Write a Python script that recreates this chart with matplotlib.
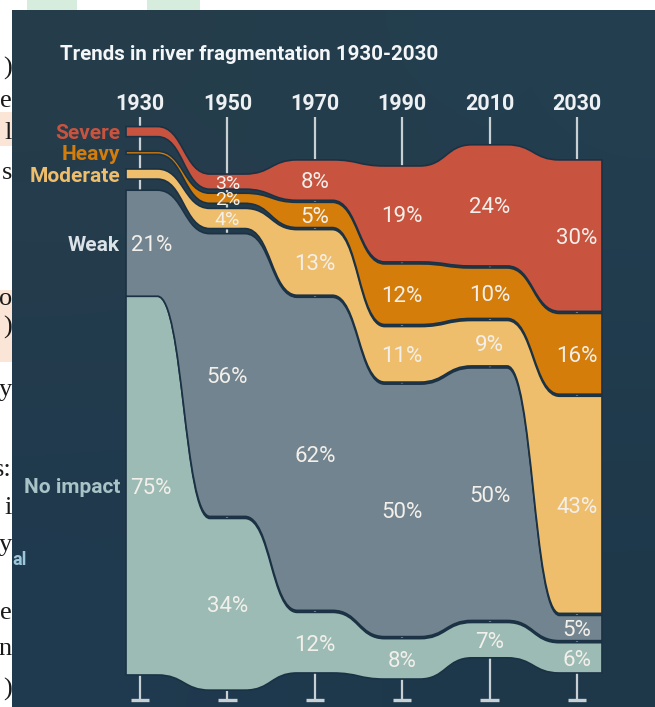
"""Stream chart: trends in river fragmentation 1930-2030."""
import numpy as np
import matplotlib
matplotlib.use("Agg")
import matplotlib.pyplot as plt
from matplotlib.path import Path
from matplotlib.patches import PathPatch, Rectangle

# --- data (percent of river length per class) ---
years = [1930, 1950, 1970, 1990, 2010, 2030]
layers = ["No impact", "Weak", "Moderate", "Heavy", "Severe"]  # bottom -> top
no_impact = [75, 34, 12, 8, 7, 6]
weak = [21, 56, 62, 50, 50, 5]
moderate = [2, 4, 13, 11, 9, 43]
heavy = [0.6, 2, 5, 12, 10, 16]
severe = [2, 3, 8, 19, 24, 30]

# --- stream layout (in % units) ---
baseline = [0.0, -3.0, 0.4, -0.8, 3.4, 0.4]
# spacing under each layer: weak, moderate, heavy, severe
gaps = [
    [0.0, 0.4, 0.4, 0.4, 0.4, 0.4],
    [2.2, 1.0, 0.4, 0.4, 0.4, 0.4],
    [2.9, 1.0, 0.4, 0.4, 0.4, 0.4],
    [2.9, 0.8, 0.4, 0.4, 0.4, 0.4],
]

colors = {
    "No impact": "#9bbbb4",
    "Weak": "#72848f",
    "Moderate": "#eebe6c",
    "Heavy": "#d47d0a",
    "Severe": "#c8533f",
}
label_colors = {
    "No impact": "#a9c4c7",
    "Weak": "#dce3e8",
    "Moderate": "#eebe6c",
    "Heavy": "#d47d0a",
    "Severe": "#c8533f",
}

W, H = 655, 707
PX_YEAR = 4.37      # pixels per year
PX_PCT = 5.05       # pixels per percent
X0_PX, Y0_PX = 140, 675


def px_x(px):
    return 1930 + (px - X0_PX) / PX_YEAR


def px_y(py):
    return (Y0_PX - py) / PX_PCT


X_START, X_END = px_x(126), px_x(602)
FLAT = 4.0


def edge(xs, ys, x_first, x_last):
    """Verts/codes of a smooth stream edge through the column values."""
    d = 1 if xs[1] > xs[0] else -1
    verts = [(x_first, ys[0])]
    codes = [Path.MOVETO]
    for i in range(len(xs) - 1):
        a = xs[i] + d * FLAT
        b = xs[i + 1] - d * FLAT
        m = (a + b) / 2
        verts += [(a, ys[i]), (m, ys[i]), (m, ys[i + 1]), (b, ys[i + 1])]
        codes += [Path.LINETO, Path.CURVE4, Path.CURVE4, Path.CURVE4]
    verts.append((x_last, ys[-1]))
    codes.append(Path.LINETO)
    return verts, codes


def main():
    plt.rcParams["font.family"] = ["Roboto", "DejaVu Sans"]
    fig = plt.figure(figsize=(W / 100, H / 100), dpi=100)
    fig.patch.set_facecolor("white")
    ax = fig.add_axes([0, 0, 1, 1])
    ax.set_xlim(px_x(0), px_x(W))
    ax.set_ylim(px_y(H), px_y(0))
    ax.axis("off")

    # screenshot edges: page text peeking in on the left, green blobs on top
    for y0, y1 in [(112, 146), (290, 362)]:
        ax.add_patch(Rectangle((px_x(0), px_y(y1)), px_x(12) - px_x(0),
                               px_y(y0) - px_y(y1), color="#fbe5d6", lw=0, zorder=0))
    for x0, x1 in [(27, 77), (147, 200)]:
        ax.add_patch(Rectangle((px_x(x0), px_y(10)), px_x(x1) - px_x(x0),
                               px_y(0) - px_y(10), color="#d6ecdd", lw=0, zorder=0))
    page_chars = [(")", 68), ("e", 101), ("l", 133), ("s", 173), ("o", 299),
                  (")", 327), ("y", 390), ("s:", 470), ("i", 508), ("y", 545),
                  ("e", 613), ("n", 649), (")", 689)]
    for ch, py in page_chars:
        ax.text(px_x(12), px_y(py), ch, ha="right", va="center", fontsize=19,
                family="Liberation Serif", color="#1a1a1a", zorder=0.5)

    # dark panel background
    grad = np.array([[[38, 61, 74], [35, 63, 80]],
                     [[31, 57, 79], [30, 56, 74]]]) / 255
    ax.imshow(grad, extent=(px_x(12), px_x(W), px_y(H), px_y(10)),
              aspect="auto", interpolation="bicubic", zorder=1)

    # column guide lines with feet
    ax.vlines(years, px_y(700), px_y(117), color="#c9d0d4", lw=1.6, zorder=2)
    ax.hlines([px_y(700)] * len(years), np.array(years) - 2.1,
              np.array(years) + 2.1, color="#c9d0d4", lw=2.4, zorder=2)

    values = [no_impact, weak, moderate, heavy, severe]
    bottom = np.array(baseline, dtype=float)
    bands = []
    for k, name in enumerate(layers):
        if k > 0:
            bottom = bottom + np.array(gaps[k - 1])
        top = bottom + np.array(values[k], dtype=float)
        bands.append((name, bottom.copy(), top.copy(), values[k]))
        bottom = top

    for name, lo, hi, vals in bands:
        tv, tc = edge(years, list(hi), X_START, X_END)
        bv, bc = edge(years[::-1], list(lo[::-1]), X_END, X_START)
        bc[0] = Path.LINETO
        verts = tv + bv + [tv[0]]
        codes = tc + bc + [Path.CLOSEPOLY]
        ax.add_patch(PathPatch(Path(verts, codes), facecolor=colors[name],
                               edgecolor="#1b3244", lw=1.2, zorder=3))

        for i, yr in enumerate(years):
            if yr == 1930 and name not in ("Weak", "No impact"):
                continue
            x = yr + (2.6 if yr == 1930 else 0)
            size = 14 if vals[i] < 5 else 16
            ax.text(x, (lo[i] + hi[i]) / 2, f"{vals[i]}%", ha="center",
                    va="center_baseline", fontsize=size, color="#f3efea", zorder=5)

        ax.text(px_x(120), (lo[0] + hi[0]) / 2, name, ha="right",
                va="center_baseline", fontsize=15, fontweight="bold",
                color=label_colors[name], zorder=5)

    ax.text(px_x(12), px_y(560), "al", ha="left", va="center", fontsize=13,
            fontweight="bold", color="#9cc8dc", zorder=5)

    for yr in years:
        ax.text(yr, px_y(102), str(yr), ha="center", va="center_baseline",
                fontsize=15.5, fontweight="bold", color="#eef1f3", zorder=5)

    ax.text(px_x(60), px_y(53), "Trends in river fragmentation 1930-2030",
            ha="left", va="center_baseline", fontsize=14.8, fontweight="bold",
            color="#f4f6f7", zorder=5)

    fig.savefig("out.png", dpi=100, facecolor=fig.get_facecolor())
    plt.close(fig)


if __name__ == "__main__":
    main()
